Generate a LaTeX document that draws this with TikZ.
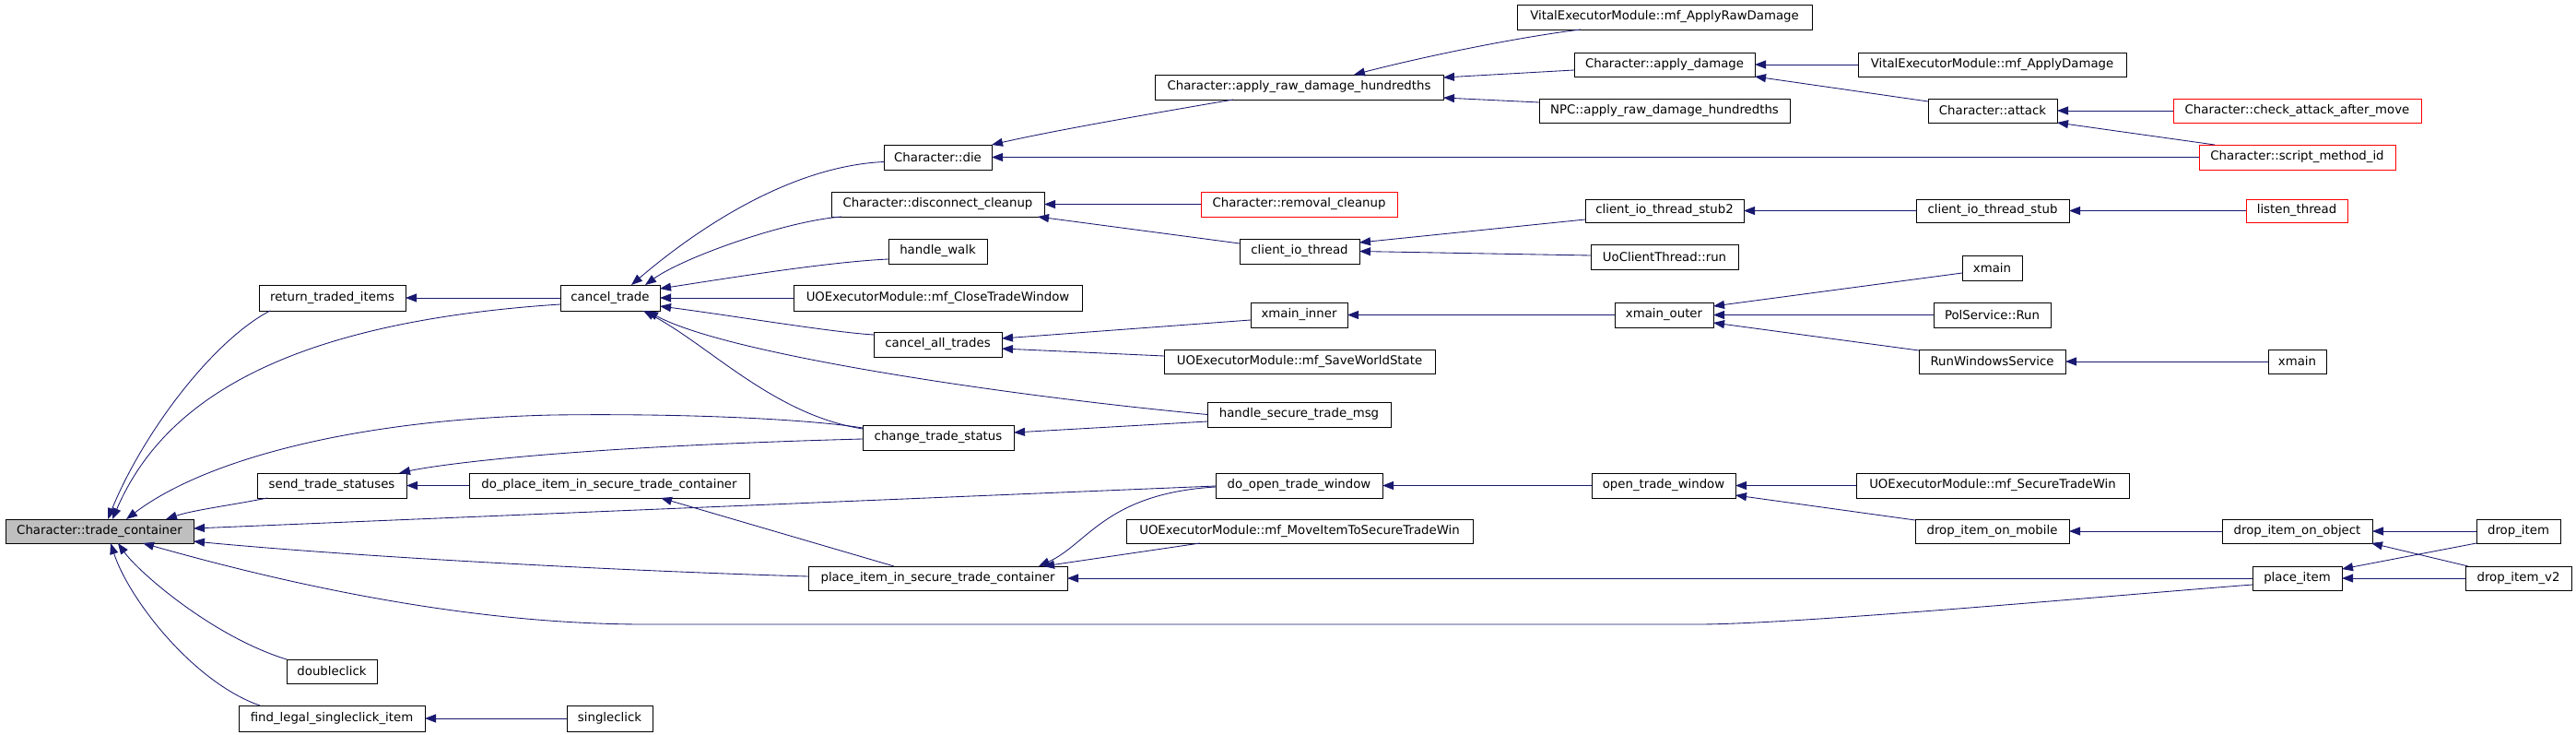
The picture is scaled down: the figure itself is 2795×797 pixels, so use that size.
\documentclass[tikz,border=0pt]{standalone}
\usepackage{fontspec}
\setmainfont{DejaVu Sans}
\usetikzlibrary{arrows.meta}
\definecolor{navy}{HTML}{191970}
\definecolor{gfill}{HTML}{BFBFBF}
\definecolor{redb}{HTML}{FF0000}
\tikzset{
  box/.style={draw=black, line width=0.9pt, fill=white, inner sep=0pt, outer sep=0pt,
    font=\fontsize{13.3pt}{16pt}\selectfont},
  redbox/.style={draw=redb},
  focus/.style={fill=gfill},
  edge/.style={draw=navy, line width=0.85pt, {Triangle[length=12pt,width=9pt]}-}
}
\newcommand{\mkbox}[7][]{\node[box,#1,minimum width={(#4-#2)*1pt},minimum height={(#5-#3)*1pt}] (#6) at ({(#2+#4)/2},{(#3+#5)/2}) {#7};}
\begin{document}
\begin{tikzpicture}[x=1pt,y=-1pt]
\useasboundingbox[fill=white] (0,0) rectangle (2795,797);
% nodes
\mkbox[focus]{6}{563}{210}{589}{tc}{Character::trade\_container}
\mkbox{281}{309}{440}{337}{rti}{return\_traded\_items}
\mkbox{279}{513}{441}{540}{sts}{send\_trade\_statuses}
\mkbox{311}{715}{409}{741}{dbl}{doubleclick}
\mkbox{259}{765}{461}{793}{fls}{find\_legal\_singleclick\_item}
\mkbox{608}{309}{716}{337}{ct}{cancel\_trade}
\mkbox{509}{513}{813}{540}{dpi}{do\_place\_item\_in\_secure\_trade\_container}
\mkbox{615}{765}{708}{793}{sc}{singleclick}
\mkbox{959}{157}{1076}{184}{die}{Character::die}
\mkbox{902}{208}{1133}{235}{dc}{Character::disconnect\_cleanup}
\mkbox{964}{259}{1071}{286}{hw}{handle\_walk}
\mkbox{861}{309}{1174}{337}{ctw}{UOExecutorModule::mf\_CloseTradeWindow}
\mkbox{948}{360}{1087}{387}{cat}{cancel\_all\_trades}
\mkbox{936}{461}{1100}{488}{cts}{change\_trade\_status}
\mkbox{877}{614}{1158}{640}{pis}{place\_item\_in\_secure\_trade\_container}
\mkbox{1253}{81}{1566}{108}{ard}{Character::apply\_raw\_damage\_hundredths}
\mkbox[redbox]{1303}{208}{1516}{235}{rc}{Character::removal\_cleanup}
\mkbox{1345}{259}{1475}{286}{cit}{client\_io\_thread}
\mkbox{1357}{328}{1462}{355}{xi}{xmain\_inner}
\mkbox{1263}{379}{1557}{405}{sws}{UOExecutorModule::mf\_SaveWorldState}
\mkbox{1310}{436}{1509}{463}{hst}{handle\_secure\_trade\_msg}
\mkbox{1319}{513}{1500}{540}{dot}{do\_open\_trade\_window}
\mkbox{1222}{563}{1598}{589}{mit}{UOExecutorModule::mf\_MoveItemToSecureTradeWin}
\mkbox{1646}{5}{1966}{32}{vrd}{VitalExecutorModule::mf\_ApplyRawDamage}
\mkbox{1708}{57}{1904}{83}{ad}{Character::apply\_damage}
\mkbox{1670}{107}{1942}{133}{npc}{NPC::apply\_raw\_damage\_hundredths}
\mkbox{1720}{216}{1892}{241}{stwo}{client\_io\_thread\_stub2}
\mkbox{1726}{265}{1886}{292}{uct}{UoClientThread::run}
\mkbox{1752}{328}{1859}{355}{xo}{xmain\_outer}
\mkbox{1727}{513}{1883}{540}{otw}{open\_trade\_window}
\mkbox{2016}{57}{2307}{83}{vad}{VitalExecutorModule::mf\_ApplyDamage}
\mkbox{2092}{107}{2232}{133}{att}{Character::attack}
\mkbox{2079}{216}{2245}{241}{sone}{client\_io\_thread\_stub}
\mkbox{2098}{328}{2225}{355}{pol}{PolService::Run}
\mkbox{2082}{379}{2241}{405}{rws}{RunWindowsService}
\mkbox{2014}{513}{2310}{540}{stw}{UOExecutorModule::mf\_SecureTradeWin}
\mkbox{2078}{563}{2245}{589}{dim}{drop\_item\_on\_mobile}
\mkbox{2129}{277}{2194}{304}{xma}{xmain}
\mkbox[redbox]{2358}{107}{2627}{133}{cam}{Character::check\_attack\_after\_move}
\mkbox[redbox]{2386}{157}{2599}{184}{smi}{Character::script\_method\_id}
\mkbox[redbox]{2437}{216}{2547}{241}{lt}{listen\_thread}
\mkbox{2461}{379}{2524}{405}{xmb}{xmain}
\mkbox{2411}{563}{2574}{589}{dio}{drop\_item\_on\_object}
\mkbox{2687}{563}{2778}{589}{di}{drop\_item}
\mkbox{2444}{614}{2541}{640}{pi}{place\_item}
\mkbox{2675}{614}{2790}{640}{divt}{drop\_item\_v2}
% edges into trade_container
\draw[edge] ([xshift=111pt]tc.north west) .. controls (155,470) and (230,370) .. ([xshift=12pt]rti.south west);
\draw[edge] ([xshift=116pt]tc.north west) .. controls (175,440) and (300,350) .. ([yshift=-7pt]ct.west);
\draw[edge] ([xshift=131pt]tc.north west) .. controls (220,500) and (380,455) .. (600,450) .. controls (750,448) and (880,455) .. ([yshift=-3pt]cts.north west);
\draw[edge] ([xshift=174pt]tc.north west) .. controls (210,553) and (250,548) .. ([xshift=11pt]sts.south west);
\draw[edge] ([yshift=3pt]tc.east) -- ([yshift=-0.5pt]dot.west);
\draw[edge] ([yshift=2pt]tc.south east) .. controls (400,605) and (700,620) .. ([yshift=2pt]pis.west);
\draw[edge] ([xshift=149pt]tc.south west) .. controls (300,630) and (500,677) .. (700,677) -- (1842,677) .. controls (1950,677) and (2300,645) .. ([yshift=-7pt]pi.west);
\draw[edge] ([xshift=122pt]tc.south west) .. controls (150,620) and (230,690) .. (dbl.north west);
\draw[edge] ([xshift=114pt]tc.south west) .. controls (140,650) and (210,740) .. ([xshift=23pt]fls.north west);
% first column
\draw[edge] (rti.east) -- (ct.west);
\draw[edge] (sts.east) -- (dpi.west);
\draw[edge] ([xshift=-8pt]sts.north east) .. controls (470,505) and (600,485) .. ([yshift=-1.5pt]cts.west);
\draw[edge] (fls.east) -- (sc.west);
% into cancel_trade
\draw[edge] ([xshift=77pt]ct.north west) .. controls (760,245) and (860,180) .. ([yshift=-5pt]die.west);
\draw[edge] ([xshift=92pt]ct.north west) .. controls (740,280) and (850,240) .. ([xshift=11pt]dc.south west);
\draw[edge] ([yshift=10pt]ct.east) .. controls (800,300) and (900,284) .. ([yshift=-8.5pt]hw.west);
\draw[edge] (ct.east) -- (ctw.west);
\draw[edge] ([yshift=-9pt]ct.east) .. controls (800,343) and (900,360) .. ([yshift=10.5pt]cat.west);
\draw[edge] ([xshift=90pt]ct.south west) .. controls (770,375) and (840,450) .. ([yshift=-4pt]cts.north west);
\draw[edge] ([xshift=94pt]ct.south west) .. controls (790,385) and (1100,430) .. (hst.west);
% change_trade_status, do_place, place_item_in_secure
\draw[edge] ([yshift=5.5pt]cts.east) -- ([yshift=-7.5pt]hst.west);
\draw[edge] ([xshift=208pt]dpi.south west) -- ([xshift=93pt]pis.north west);
\draw[edge] ([xshift=250pt]pis.north west) .. controls (1180,590) and (1200,535) .. ([yshift=-1.5pt]dot.west);
\draw[edge] ([xshift=255pt]pis.north west) -- ([xshift=80pt]mit.south west);
\draw[edge] (pis.east) -- (pi.west);
% trade window chain
\draw[edge] (dot.east) -- (otw.west);
\draw[edge] (otw.east) -- (stw.west);
\draw[edge] ([yshift=-10.5pt]otw.east) -- ([yshift=-1pt]dim.north west);
\draw[edge] (dim.east) -- (dio.west);
\draw[edge] (dio.east) -- (di.west);
\draw[edge] ([xshift=-1pt]dio.south east) -- ([xshift=3pt]divt.north west);
\draw[edge] ([yshift=-3pt]pi.north east) -- (di.south west);
\draw[edge] (pi.east) -- (divt.west);
% damage chain
\draw[edge] (die.north east) .. controls (1150,140) and (1280,118) .. ([xshift=85pt]ard.south west);
\draw[edge] (die.east) -- (smi.west);
\draw[edge] ([xshift=216pt]ard.north west) .. controls (1550,60) and (1650,40) .. ([xshift=69pt]vrd.south west);
\draw[edge] ([yshift=10.5pt]ard.east) -- ([yshift=-6pt]ad.west);
\draw[edge] ([yshift=-11.5pt]ard.east) -- ([yshift=9pt]npc.west);
\draw[edge] (ad.east) -- (vad.west);
\draw[edge] (ad.south east) -- ([yshift=-3pt]att.north west);
\draw[edge] (att.east) -- (cam.west);
\draw[edge] (att.south east) -- ([xshift=17pt]smi.north west);
% disconnect chain
\draw[edge] (dc.east) -- (rc.west);
\draw[edge] ([xshift=-7pt]dc.south east) -- ([yshift=-5pt]cit.north west);
\draw[edge] ([yshift=9.5pt]cit.east) -- ([yshift=-9.5pt]stwo.west);
\draw[edge] (cit.east) -- ([yshift=1.5pt]uct.west);
\draw[edge] (stwo.east) -- (sone.west);
\draw[edge] (sone.east) -- (lt.west);
% cancel_all_trades chain
\draw[edge] ([yshift=6.5pt]cat.east) -- ([yshift=-5.5pt]xi.west);
\draw[edge] ([yshift=-4.5pt]cat.east) -- ([yshift=6pt]sws.west);
\draw[edge] (xi.east) -- (xo.west);
\draw[edge] ([yshift=9.5pt]xo.east) -- ([yshift=-5.5pt]xma.west);
\draw[edge] (xo.east) -- (pol.west);
\draw[edge] ([yshift=-8.5pt]xo.east) -- ([yshift=12pt]rws.west);
\draw[edge] (rws.east) -- (xmb.west);
\end{tikzpicture}
\end{document}
